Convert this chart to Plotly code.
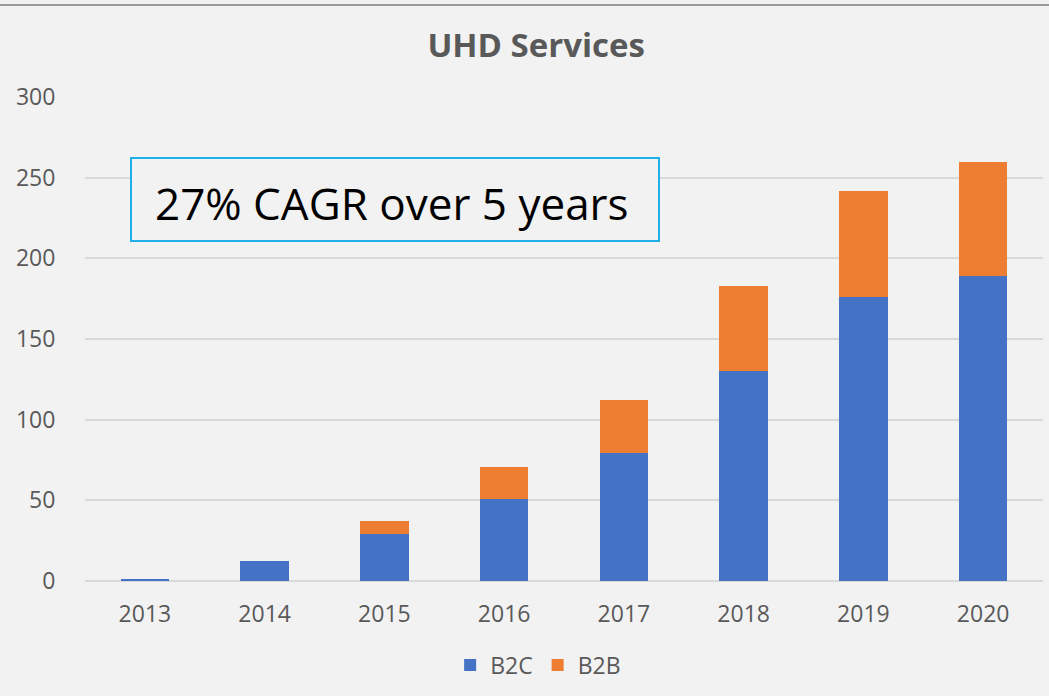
import plotly.graph_objects as go

years = ["2013", "2014", "2015", "2016", "2017", "2018", "2019", "2020"]
b2c = [1, 12.5, 29, 51, 79.5, 130, 176, 189]
b2b = [0, 0, 8, 19.5, 32.5, 53, 65.5, 71]
y_ticks = [0, 50, 100, 150, 200, 250, 300]

FONT = "Open Sans"
GREY = "#595959"

fig = go.Figure()
fig.add_trace(go.Bar(x=years, y=b2c, name="B2C", marker=dict(color="#4472c4", line=dict(width=0))))
fig.add_trace(go.Bar(x=years, y=b2b, name="B2B", marker=dict(color="#ed7d31", line=dict(width=0))))

fig.update_layout(
    width=1049, height=696,
    barmode="stack", bargap=0.595,
    paper_bgcolor="#f2f2f2", plot_bgcolor="#f2f2f2",
    margin=dict(l=85, r=6, t=97, b=115),
    font=dict(family=FONT, color=GREY, size=23),
    title=dict(text="<b>UHD Services</b>", x=0.471, xref="paper", xanchor="center",
               y=0.935, yref="container", yanchor="middle",
               font=dict(family=FONT, size=33, color=GREY)),
    legend=dict(orientation="h", x=0.473, xanchor="center", y=-0.1736, yanchor="middle",
                font=dict(family=FONT, size=23, color=GREY), bgcolor="rgba(0,0,0,0)",
                traceorder="normal", itemwidth=30, tracegroupgap=0),
    showlegend=True,
)
fig.update_yaxes(range=[0, 300], tickvals=y_ticks, showgrid=True, gridcolor="#d9d9d9", gridwidth=2,
                 zeroline=True, zerolinecolor="#d9d9d9", zerolinewidth=2,
                 ticks="outside", ticklen=24, tickcolor="rgba(0,0,0,0)",
                 tickfont=dict(family=FONT, size=23, color=GREY), showline=False)
fig.update_xaxes(showgrid=False, ticks="outside", ticklen=12, tickcolor="rgba(0,0,0,0)",
                 tickfont=dict(family=FONT, size=23, color=GREY), showline=False)

# top border line
fig.add_shape(type="line", xref="paper", yref="paper", x0=-85/958, x1=1.01, y0=(581-5)/484, y1=(581-5)/484,
              line=dict(color="#9a9a9a", width=2))
# CAGR box
fig.add_shape(type="rect", xref="paper", yref="paper",
              x0=(131-85)/958, x1=(659-85)/958, y0=(581-241)/484, y1=(581-158)/484,
              line=dict(color="#1fb0e8", width=2), fillcolor="#f2f2f2", layer="above")
fig.add_annotation(text="27% CAGR over 5 years", xref="paper", yref="paper",
                   x=(392-85)/958, y=(581-203)/484, showarrow=False,
                   xanchor="center", yanchor="middle",
                   font=dict(family=FONT, size=44, color="#000000"))

fig.write_html("out.html", config={"displayModeBar": False},
               post_script="document.body.style.margin='0';document.body.style.background='#f2f2f2';")
